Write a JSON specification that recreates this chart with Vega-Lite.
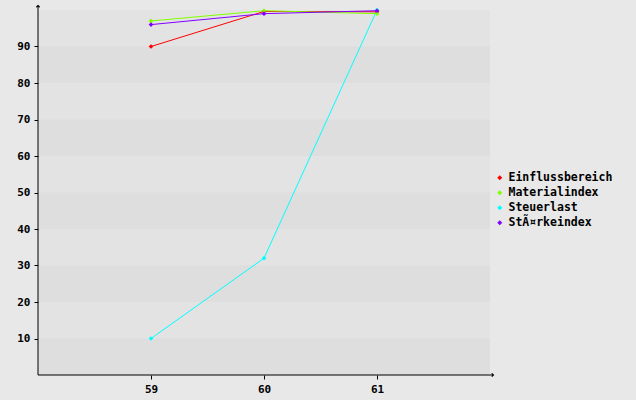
{
  "$schema": "https://vega.github.io/schema/vega-lite/v6.json",
  "width": 452,
  "height": 365,
  "autosize": "none",
  "padding": {"left": 38, "top": 10, "right": 146, "bottom": 25},
  "background": "#e8e8e8",
  "config": {
    "view": {"fill": "#e3e3e3", "stroke": null},
    "font": "DejaVu Sans Mono"
  },
  "datasets": {
    "series": [
      {"x": 59, "y": 90, "s": "Einflussbereich"},
      {"x": 60, "y": 99.6, "s": "Einflussbereich"},
      {"x": 61, "y": 99.5, "s": "Einflussbereich"},
      {"x": 59, "y": 97, "s": "Materialindex"},
      {"x": 60, "y": 99.8, "s": "Materialindex"},
      {"x": 61, "y": 99, "s": "Materialindex"},
      {"x": 59, "y": 10, "s": "Steuerlast"},
      {"x": 60, "y": 32, "s": "Steuerlast"},
      {"x": 61, "y": 100, "s": "Steuerlast"},
      {"x": 59, "y": 96, "s": "StÃ¤rkeindex"},
      {"x": 60, "y": 99, "s": "StÃ¤rkeindex"},
      {"x": 61, "y": 99.8, "s": "StÃ¤rkeindex"}
    ],
    "bands": [
      {"lo": 0, "hi": 10},
      {"lo": 20, "hi": 30},
      {"lo": 40, "hi": 50},
      {"lo": 60, "hi": 70},
      {"lo": 80, "hi": 90}
    ],
    "one": [{"k": 1}]
  },
  "layer": [
    {
      "data": {"name": "bands"},
      "mark": {"type": "rect", "color": "#dedede"},
      "encoding": {
        "x": {"datum": 58, "type": "quantitative", "scale": {"domain": [58, 62], "nice": false, "zero": false},
          "axis": {"values": [59, 60, 61], "title": null, "grid": false, "domain": false, "tickColor": "black", "tickSize": 4, "labelFontSize": 11, "labelFontWeight": "bold", "labelColor": "black", "labelPadding": 4, "format": "d"}},
        "x2": {"datum": 62},
        "y": {"field": "lo", "type": "quantitative", "scale": {"domain": [0, 100], "nice": false},
          "axis": {"values": [10, 20, 30, 40, 50, 60, 70, 80, 90], "title": null, "grid": false, "domain": false, "tickColor": "black", "tickSize": 4, "labelFontSize": 11, "labelFontWeight": "bold", "labelColor": "black", "labelPadding": 4}},
        "y2": {"field": "hi"}
      }
    },
    {
      "data": {"name": "one"},
      "mark": {"type": "rule", "color": "black", "strokeWidth": 1},
      "encoding": {
        "x": {"datum": 58, "type": "quantitative"},
        "y": {"datum": 0, "type": "quantitative"},
        "y2": {"datum": 101.2}
      }
    },
    {
      "data": {"name": "one"},
      "mark": {"type": "rule", "color": "black", "strokeWidth": 1},
      "encoding": {
        "x": {"datum": 58, "type": "quantitative"},
        "x2": {"datum": 62.03},
        "y": {"datum": 0, "type": "quantitative"}
      }
    },
    {
      "data": {"name": "one"},
      "mark": {"type": "point", "shape": "M-0.6,0.6L0,0L0.6,0.6", "filled": false, "stroke": "black", "strokeWidth": 1.2, "size": 30, "opacity": 1},
      "encoding": {
        "x": {"datum": 58, "type": "quantitative"},
        "y": {"datum": 101.2, "type": "quantitative"}
      }
    },
    {
      "data": {"name": "one"},
      "mark": {"type": "point", "shape": "M-0.6,-0.6L0,0L-0.6,0.6", "filled": false, "stroke": "black", "strokeWidth": 1.2, "size": 30, "opacity": 1},
      "encoding": {
        "x": {"datum": 62.03, "type": "quantitative"},
        "y": {"datum": 0, "type": "quantitative"}
      }
    },
    {
      "data": {"name": "series"},
      "mark": {"type": "line", "strokeWidth": 1},
      "encoding": {
        "x": {"field": "x", "type": "quantitative"},
        "y": {"field": "y", "type": "quantitative"},
        "color": {"field": "s", "type": "nominal",
          "scale": {"domain": ["Einflussbereich", "Materialindex", "Steuerlast", "StÃ¤rkeindex"], "range": ["#ff0000", "#80ff00", "#00ffff", "#8000ff"]},
          "legend": {"title": null, "orient": "none", "legendX": 456, "legendY": 162, "symbolType": "diamond", "symbolSize": 25, "labelFontSize": 11.5, "labelFontWeight": "bold", "labelColor": "black", "rowPadding": 2, "symbolStrokeWidth": 0, "labelOffset": 3}}
      }
    },
    {
      "data": {"name": "series"},
      "mark": {"type": "point", "shape": "diamond", "filled": true, "size": 22, "opacity": 1},
      "encoding": {
        "x": {"field": "x", "type": "quantitative"},
        "y": {"field": "y", "type": "quantitative"},
        "color": {"field": "s", "type": "nominal", "legend": null}
      }
    }
  ]
}
